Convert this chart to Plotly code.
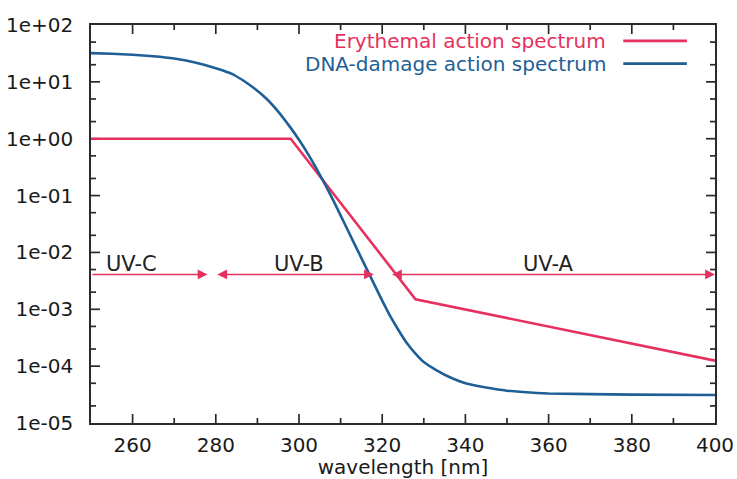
import math
import plotly.graph_objects as go

# Erythemal (CIE) action spectrum: piecewise log-linear breakpoints
ery_wl = [250, 298, 328, 400]
ery_val = [1.0, 1.0, 1.5e-3, 1.25e-4]

# DNA-damage action spectrum
dna_wl = [250, 255, 260, 265, 270, 275, 280, 284, 288, 292, 295, 298, 300, 302,
          304, 306, 308, 310, 312, 314, 316, 318, 320, 322, 324, 326, 328, 330,
          333, 336, 340, 345, 350, 360, 380, 400]
dna_val = [32.0, 31.3, 29.9, 28.2, 25.7, 21.9, 17.4, 13.7, 9.0, 5.2, 3.0, 1.55,
           0.957, 0.564, 0.317, 0.170, 0.0893, 0.0448, 0.0224, 0.0112, 0.00564,
           0.00282, 0.00142, 7.4e-4, 4.2e-4, 2.5e-4, 1.66e-4, 1.18e-4, 8.5e-5,
           6.5e-5, 5.0e-5, 4.2e-5, 3.7e-5, 3.3e-5, 3.16e-5, 3.1e-5]

# UV bands drawn as arrows along one level
band_names = ["UV-C", "UV-B", "UV-A"]
band_start = [250, 280, 322]
band_end = [278, 318, 400]
band_sides = ["end", "end+start", "end+start"]
band_label_x = [259.7, 300.0, 360.0]
band_level = 4.1e-3
band_label_level = 6.3e-3

# Axis ranges and ticks
x_range = [250, 400]
y_range = [1e-5, 1e2]
x_major = [260, 280, 300, 320, 340, 360, 380]
x_minor = [270, 290, 310, 330, 350, 370, 390]
y_ticks = [1e-5, 1e-4, 1e-3, 1e-2, 1e-1, 1e0, 1e1, 1e2]
y_ticktext = ["1e-05", "1e-04", "1e-03", "1e-02", "1e-01", "1e+00", "1e+01", "1e+02"]
y_minor = [2e-5, 5e-5, 2e-4, 5e-4, 2e-3, 5e-3, 2e-2, 5e-2, 2e-1, 5e-1, 2, 5, 20, 50]

RED = "#e5315d"
BLUE = "#1f5f96"
AXIS = "#2a2a2a"
FONT = "DejaVu Sans"

PLOT_W, PLOT_H = 624, 398
MAJOR_LEN, MINOR_LEN = 9, 5

fig = go.Figure()

# Inward tick marks on all four sides of the frame, as line segments in data space
nm_per_px = (x_range[1] - x_range[0]) / PLOT_W
dec_per_px = (math.log10(y_range[1]) - math.log10(y_range[0])) / PLOT_H
tick_x, tick_y = [], []
for vals, length in ((x_major, MAJOR_LEN), (x_minor, MINOR_LEN)):
    k = 10 ** (length * dec_per_px)
    for v in vals:
        tick_x += [v, v, None, v, v, None]
        tick_y += [y_range[0], y_range[0] * k, None, y_range[1], y_range[1] / k, None]
for vals, length in ((y_ticks[1:-1], MAJOR_LEN), (y_minor, MINOR_LEN)):
    d = length * nm_per_px
    for v in vals:
        tick_x += [x_range[0], x_range[0] + d, None, x_range[1], x_range[1] - d, None]
        tick_y += [v, v, None, v, v, None]
fig.add_trace(go.Scatter(x=tick_x, y=tick_y, mode="lines", hoverinfo="skip",
                         line=dict(color=AXIS, width=1.7), showlegend=False))

fig.add_trace(go.Scatter(x=ery_wl, y=ery_val, mode="lines", name="Erythemal action spectrum",
                         line=dict(color=RED, width=2.6), showlegend=False))
fig.add_trace(go.Scatter(x=dna_wl, y=dna_val, mode="lines", name="DNA-damage action spectrum",
                         line=dict(color=BLUE, width=2.6, shape="spline", smoothing=0.4),
                         showlegend=False))

annotations = []
shapes = []

lvl = math.log10(band_level)
for name, x0, x1, side, lx in zip(band_names, band_start, band_end, band_sides, band_label_x):
    annotations.append(dict(x=x1, y=lvl, ax=x0, ay=lvl, xref="x", yref="y",
                            axref="x", ayref="y", text="", showarrow=True,
                            arrowhead=2, arrowside=side, arrowsize=1.4,
                            arrowwidth=1.4, arrowcolor=RED))
    annotations.append(dict(x=lx, y=math.log10(band_label_level), xref="x", yref="y",
                            text=name, showarrow=False,
                            font=dict(family=FONT, size=21, color="#222222")))

# Key in the upper right: label text followed by a line sample
key_rows = [("Erythemal action spectrum", RED, 0.960),
            ("DNA-damage action spectrum", BLUE, 0.903)]
for label, color, yp in key_rows:
    annotations.append(dict(x=0.828, y=yp, xref="paper", yref="paper", text=label,
                            showarrow=False, xanchor="right", yanchor="middle",
                            font=dict(family=FONT, size=20, color=color)))
    shapes.append(dict(type="line", xref="paper", yref="paper", x0=0.853, x1=0.955,
                       y0=yp, y1=yp, line=dict(color=color, width=2.6)))

axis_common = dict(showline=True, linecolor=AXIS, linewidth=1.5, mirror=True,
                   ticks="", showgrid=False, zeroline=False, automargin=False,
                   tickfont=dict(family=FONT, size=20, color="#1a1a1a"))

fig.update_layout(
    width=737, height=479,
    margin=dict(l=91, r=22, t=25, b=56),
    paper_bgcolor="white", plot_bgcolor="white",
    annotations=annotations, shapes=shapes,
    xaxis=dict(range=x_range, dtick=20, tick0=260, ticklabelstandoff=3,
               title=dict(text="wavelength [nm]", standoff=5,
                          font=dict(family=FONT, size=20, color="#1a1a1a")),
               **axis_common),
    yaxis=dict(type="log", range=[math.log10(y_range[0]), math.log10(y_range[1])],
               tickvals=y_ticks, ticktext=y_ticktext, ticklabelstandoff=12,
               **axis_common),
)

fig.write_html("out.html")
